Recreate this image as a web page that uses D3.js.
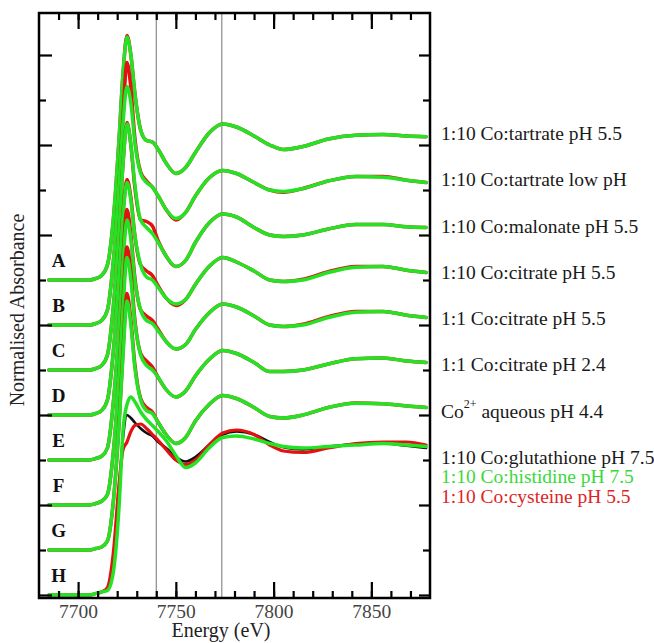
<!DOCTYPE html>
<html>
<head>
<meta charset="utf-8">
<script src="https://cdn.jsdelivr.net/npm/d3@7"></script>
<style>
  body { margin: 0; background: #fff; }
  text { font-family: "Liberation Serif", "Times New Roman", serif; }
</style>
</head>
<body>
<div id="xanes_chart"></div>
<script>
// energy grid (eV) that every spectrum below is read on
var energy = [7685, 7700, 7706, 7709, 7712, 7715, 7718, 7721, 7723, 7725, 7727, 7729, 7732, 7735, 7738, 7741,
              7745, 7750, 7755, 7760, 7767, 7774, 7781, 7790, 7798, 7805, 7815, 7828, 7842, 7856, 7868, 7878];

var letters = ["A", "B", "C", "D", "E", "F", "G", "H"];
var offsets = [2.1, 1.8, 1.5, 1.2, 0.9, 0.6, 0.3, 0.0];
var sampleNames = ["1:10 Co:tartrate pH 5.5", "1:10 Co:tartrate low pH", "1:10 Co:malonate pH 5.5",
                   "1:10 Co:citrate pH 5.5", "1:1 Co:citrate pH 5.5", "1:1 Co:citrate pH 2.4",
                   "Co|2+| aqueous pH 4.4"];
var hNames = ["1:10 Co:glutathione pH 7.5", "1:10 Co:histidine pH 7.5", "1:10 Co:cysteine pH 5.5"];
var refEnergies = [7740, 7773.5];

// spectra A-G: red = measured, green = fit (normalised, before offset)
var redA   = [0,0,0,0.01,0.03,0.1,0.4,0.95,1.38,1.63,1.5,1.25,1.0,0.93,0.92,0.87,0.78,0.71,0.75,0.85,0.98,1.04,1.02,0.96,0.9,0.87,0.89,0.94,0.965,0.97,0.96,0.955];
var greenA = [0,0,0,0.01,0.03,0.1,0.4,0.95,1.38,1.62,1.5,1.25,1.0,0.93,0.92,0.87,0.78,0.71,0.75,0.85,0.98,1.04,1.02,0.96,0.9,0.87,0.89,0.94,0.965,0.97,0.96,0.955];
var redB   = [0,0,0,0.01,0.03,0.1,0.42,0.95,1.4,1.75,1.58,1.25,1.02,0.96,0.92,0.86,0.77,0.7,0.75,0.86,0.98,1.03,1.01,0.95,0.9,0.885,0.91,0.96,0.99,0.99,0.965,0.95];
var greenB = [0,0,0,0.01,0.03,0.1,0.42,0.95,1.35,1.59,1.48,1.22,1.01,0.95,0.92,0.86,0.77,0.71,0.75,0.86,0.98,1.03,1.01,0.95,0.9,0.89,0.91,0.96,0.99,0.985,0.965,0.95];
var redC   = [0,0,0,0.01,0.03,0.1,0.42,0.95,1.38,1.65,1.5,1.22,1.0,0.99,0.96,0.86,0.76,0.69,0.73,0.85,0.98,1.04,1.02,0.95,0.9,0.89,0.9,0.94,0.97,0.97,0.955,0.95];
var greenC = [0,0,0,0.01,0.03,0.1,0.42,0.95,1.38,1.64,1.5,1.24,1.0,0.95,0.91,0.85,0.76,0.69,0.73,0.85,0.98,1.04,1.02,0.95,0.9,0.89,0.9,0.94,0.97,0.97,0.955,0.95];
var redD   = [0,0,0,0.01,0.03,0.1,0.42,0.95,1.35,1.57,1.45,1.2,1.0,0.96,0.93,0.86,0.78,0.73,0.77,0.87,0.99,1.05,1.02,0.96,0.9,0.89,0.905,0.955,0.99,0.99,0.965,0.95];
var greenD = [0,0,0,0.01,0.03,0.1,0.42,0.95,1.33,1.55,1.43,1.2,1.0,0.92,0.9,0.85,0.78,0.74,0.77,0.87,0.99,1.05,1.02,0.96,0.9,0.89,0.9,0.95,0.985,0.99,0.965,0.95];
var redE   = [0,0,0,0.01,0.025,0.08,0.38,0.9,1.35,1.67,1.5,1.22,1.0,0.96,0.93,0.87,0.79,0.74,0.77,0.87,0.98,1.04,1.02,0.96,0.9,0.89,0.905,0.955,0.99,0.99,0.965,0.95];
var greenE = [0,0,0,0.01,0.025,0.08,0.38,0.9,1.32,1.6,1.47,1.2,1.0,0.93,0.91,0.86,0.79,0.74,0.77,0.87,0.98,1.04,1.02,0.96,0.9,0.89,0.9,0.95,0.985,0.99,0.965,0.95];
var redF   = [0,0,0,0.01,0.025,0.07,0.35,0.88,1.36,1.72,1.55,1.24,1.01,0.96,0.92,0.85,0.77,0.72,0.76,0.86,0.97,1.03,1.01,0.95,0.89,0.89,0.9,0.94,0.975,0.98,0.96,0.95];
var greenF = [0,0,0,0.01,0.025,0.07,0.35,0.88,1.32,1.65,1.5,1.22,1.0,0.93,0.9,0.85,0.77,0.72,0.76,0.86,0.97,1.03,1.01,0.95,0.89,0.89,0.9,0.94,0.975,0.98,0.96,0.95];
var redG   = [0,0,0,0.01,0.02,0.06,0.32,0.85,1.33,1.71,1.53,1.24,1.01,0.95,0.92,0.85,0.77,0.71,0.75,0.86,0.97,1.03,1.01,0.95,0.89,0.88,0.9,0.95,0.98,0.975,0.96,0.95];
var greenG = [0,0,0,0.01,0.02,0.06,0.32,0.85,1.3,1.66,1.5,1.22,1.0,0.93,0.91,0.85,0.77,0.71,0.75,0.86,0.97,1.03,1.01,0.95,0.89,0.88,0.9,0.95,0.978,0.975,0.96,0.95];

// group H: three different samples
var glutathioneH = [0,0,0,0.01,0.02,0.04,0.22,0.72,1.05,1.2,1.18,1.15,1.11,1.08,1.06,1.02,0.98,0.92,0.89,0.92,1.0,1.07,1.09,1.07,1.02,0.985,0.97,0.99,1.005,1.01,0.995,0.98];
var histidineH   = [0,0,0,0.01,0.02,0.03,0.15,0.6,1.1,1.27,1.32,1.29,1.22,1.17,1.13,1.09,1.03,0.93,0.85,0.88,0.98,1.05,1.06,1.04,1.01,0.99,0.98,0.99,1.0,1.01,1.0,0.99];
var cysteineH    = [0,0,0,0.01,0.02,0.05,0.28,0.75,0.97,1.02,1.09,1.13,1.14,1.11,1.07,1.03,0.97,0.9,0.87,0.9,1.0,1.08,1.1,1.07,1.0,0.96,0.95,0.98,1.01,1.02,1.02,1.0];

var redSet = [redA, redB, redC, redD, redE, redF, redG];
var greenSet = [greenA, greenB, greenC, greenD, greenE, greenF, greenG];

var RED = "#e31212", GREEN = "#24e324", BLACK = "#111";

var width = 654, height = 643;
var svg = d3.select("#xanes_chart").append("svg")
    .attr("width", width).attr("height", height);

var x = d3.scaleLinear().domain([7680, 7880]).range([39, 430]);
var y = d3.scaleLinear().domain([-0.02, 3.88]).range([598, 13]);

var line = function(vals, off) {
    return d3.line()
        .x(function(d, i) { return x(energy[i]); })
        .y(function(d) { return y(d + off); })
        .curve(d3.curveMonotoneX)(vals);
};

// reference energies
svg.append("g").selectAll("line").data(refEnergies).join("line")
    .attr("x1", function(d) { return x(d); }).attr("x2", function(d) { return x(d); })
    .attr("y1", y.range()[0]).attr("y2", y.range()[1])
    .attr("stroke", "#8a8a8a").attr("stroke-width", 1.2);

var curves = svg.append("g").attr("fill", "none").attr("stroke-linejoin", "round").attr("stroke-linecap", "round");

redSet.forEach(function(r, k) {
    curves.append("path").attr("d", line(r, offsets[k])).attr("stroke", RED).attr("stroke-width", 3.5);
    curves.append("path").attr("d", line(greenSet[k], offsets[k])).attr("stroke", GREEN).attr("stroke-width", 3.5);
});

curves.append("path").attr("d", line(glutathioneH, offsets[7])).attr("stroke", BLACK).attr("stroke-width", 2.6);
curves.append("path").attr("d", line(cysteineH, offsets[7])).attr("stroke", RED).attr("stroke-width", 3.2);
curves.append("path").attr("d", line(histidineH, offsets[7])).attr("stroke", GREEN).attr("stroke-width", 3.5);

// axes: ticks point inward on all four sides
var minorX = d3.range(7690, 7880, 10), majorX = [7700, 7750, 7800, 7850];
var yTicks = d3.range(13).map(function(i) { return i * 0.3; });
var yMajor = yTicks.filter(function(d, i) { return i % 2 == 0; });
var yMinor = yTicks.filter(function(d, i) { return i % 2 == 1; });

function addAxis(axis, tx, ty) {
    var g = svg.append("g").attr("transform", "translate(" + tx + "," + ty + ")").call(axis);
    g.select(".domain").remove();
    g.selectAll(".tick line").attr("stroke", "#000").attr("stroke-width", 2.2);
    return g;
}

addAxis(d3.axisBottom(x).tickValues(minorX).tickSize(-7).tickFormat(""), 0, 598);
addAxis(d3.axisTop(x).tickValues(minorX).tickSize(-7).tickFormat(""), 0, 13);
addAxis(d3.axisTop(x).tickValues(majorX).tickSize(-16).tickFormat(""), 0, 13);
var xg = addAxis(d3.axisBottom(x).tickValues(majorX).tickSize(-16).tickPadding(6).tickFormat(d3.format("d")), 0, 598);
xg.selectAll("text").attr("font-size", "19.5px").attr("fill", "#444")
    .style("font-family", '"Liberation Serif", "Times New Roman", serif');

addAxis(d3.axisLeft(y).tickValues(yMajor).tickSize(-13).tickFormat(""), 39, 0);
addAxis(d3.axisLeft(y).tickValues(yMinor).tickSize(-7).tickFormat(""), 39, 0);
addAxis(d3.axisRight(y).tickValues(yMajor).tickSize(-11).tickFormat(""), 430, 0);
addAxis(d3.axisRight(y).tickValues(yMinor).tickSize(-7).tickFormat(""), 430, 0);

// frame
svg.append("rect")
    .attr("x", x.range()[0]).attr("y", y.range()[1])
    .attr("width", x.range()[1] - x.range()[0]).attr("height", y.range()[0] - y.range()[1])
    .attr("fill", "none").attr("stroke", "#000").attr("stroke-width", 2.5);

// axis titles
svg.append("text")
    .attr("x", 221).attr("y", 637)
    .attr("text-anchor", "middle").attr("font-size", "20px").attr("fill", "#222")
    .text("Energy (eV)");

svg.append("text")
    .attr("transform", "translate(24,310) rotate(-90)")
    .attr("text-anchor", "middle").attr("font-size", "20px").attr("fill", "#222")
    .text("Normalised Absorbance");

// spectrum letters
svg.append("g").selectAll("text").data(letters).join("text")
    .attr("x", x(7690))
    .attr("y", function(d, i) { return y(offsets[i] + 0.13); })
    .attr("text-anchor", "middle").attr("dominant-baseline", "central")
    .attr("font-size", "19px").attr("font-weight", "bold").attr("fill", "#111")
    .text(function(d) { return d; });

// sample names on the right
var labelY = d3.scaleLinear().domain([0, 7]).range([133, 457]);
var names = svg.append("g").attr("font-size", "19.5px").attr("fill", "#1a1a1a");
sampleNames.forEach(function(n, i) {
    var t = names.append("text").attr("x", 441).attr("y", labelY(i)).attr("dominant-baseline", "central");
    var parts = n.split("|");
    t.append("tspan").text(parts[0]);
    if (parts.length > 1) {
        t.append("tspan").attr("dy", -7).attr("font-size", "12px").text(parts[1]);
        t.append("tspan").attr("dy", 7).text(parts[2]);
    }
});
var hColors = ["#1a1a1a", "#3ad83a", "#e02424"];
hNames.forEach(function(n, j) {
    names.append("text")
        .attr("x", 441).attr("y", labelY(7) + j * 19.5)
        .attr("dominant-baseline", "central").attr("fill", hColors[j])
        .text(n);
});
</script>
</body>
</html>
